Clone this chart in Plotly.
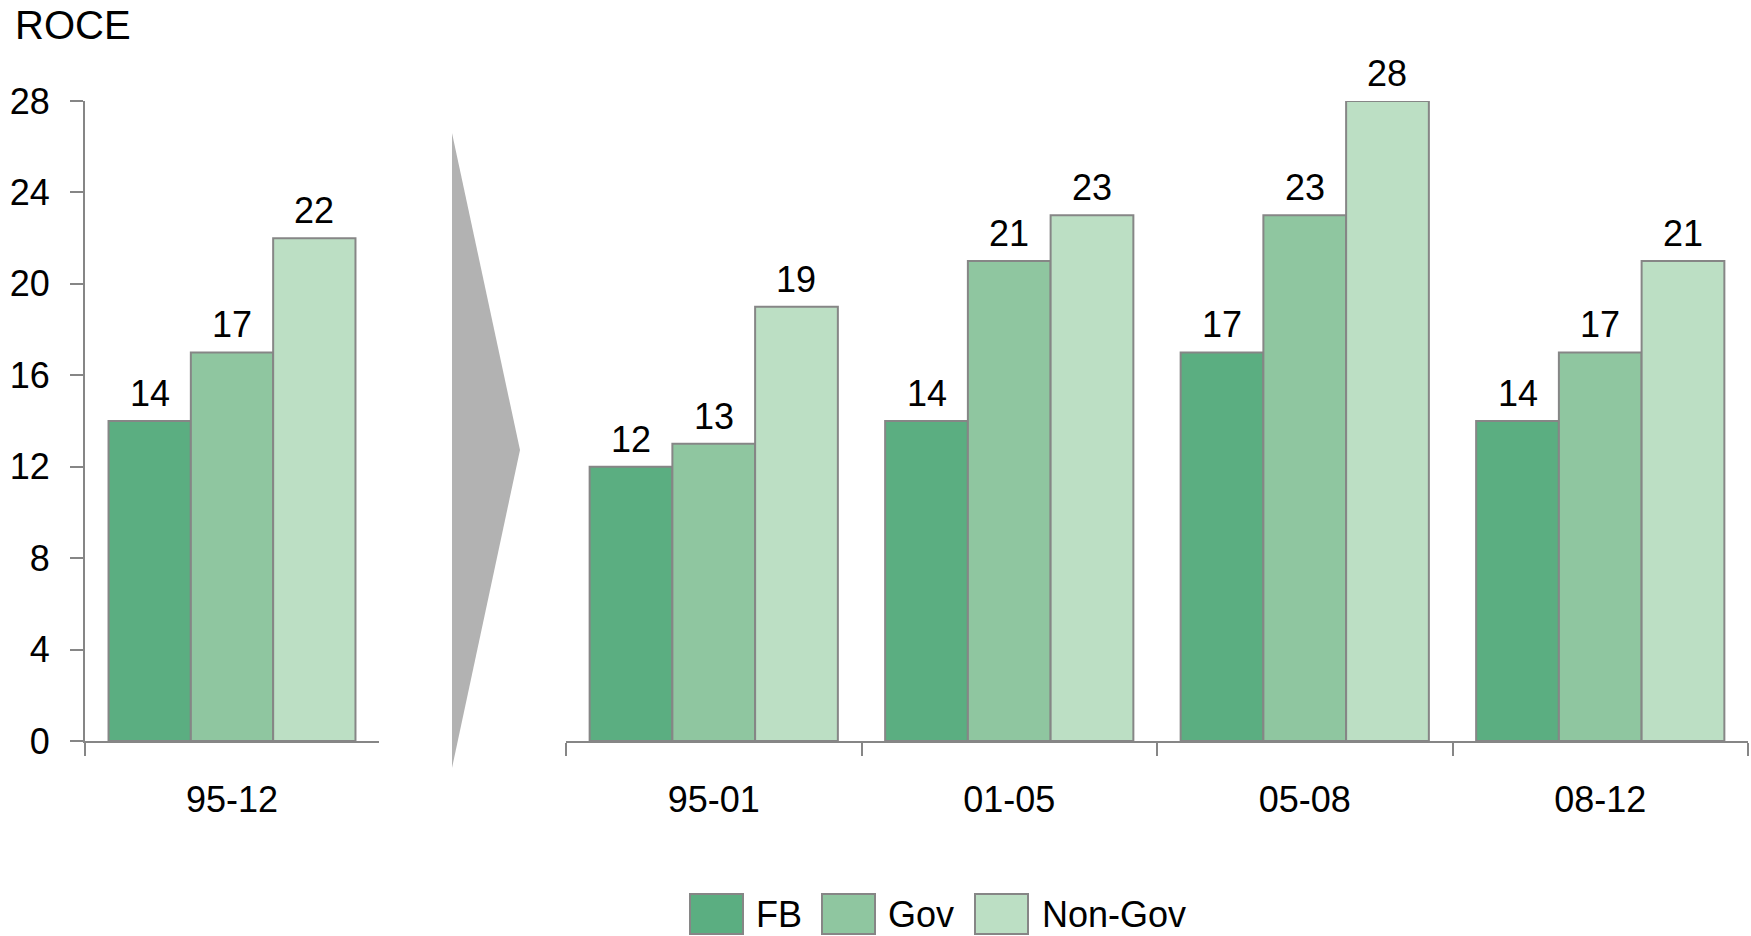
import plotly.graph_objects as go

# Data
series = ["FB", "Gov", "Non-Gov"]
colors = ["#5bae81", "#8fc6a0", "#bcdfc4"]

overall_period = ["95-12"]
overall_values = {"FB": [14], "Gov": [17], "Non-Gov": [22]}

sub_periods = ["95-01", "01-05", "05-08", "08-12"]
sub_values = {
    "FB": [12, 14, 17, 14],
    "Gov": [13, 21, 23, 17],
    "Non-Gov": [19, 23, 28, 21],
}

y_ticks = [0, 4, 8, 12, 16, 20, 24, 28]

W, H = 1751, 936
M_TOP, M_BOT = 101, 195
PLOT_H = H - M_TOP - M_BOT
BARGAP = 0.16

FONT = "Liberation Sans, Arial, sans-serif"
GRAY = "#868686"

# Pixel extents of the two panels
LEFT_X = (85, 379)
RIGHT_X = (566, 1748)


def px_x(p):
    return p / W


def px_y(p):
    return (H - M_BOT - p) / PLOT_H


fig = go.Figure()

panels = [
    ("x", "y", overall_period, overall_values, LEFT_X),
    ("x2", "y2", sub_periods, sub_values, RIGHT_X),
]

for xa, ya, cats, vals, (p0, p1) in panels:
    bar_px = (p1 - p0) / len(cats) * (1 - BARGAP) / len(series)
    for i, (name, col) in enumerate(zip(series, colors)):
        fig.add_trace(go.Bar(
            x=cats, y=vals[name], name=name,
            marker=dict(color=col, line=dict(color=GRAY, width=2)),
            showlegend=False, xaxis=xa, yaxis=ya,
        ))
        # value labels above each bar
        for c, v in zip(cats, vals[name]):
            fig.add_annotation(
                x=c, y=v, xref=xa, yref=ya, text=str(v), showarrow=False,
                xanchor="center", yanchor="bottom",
                xshift=(i - 1) * bar_px, yshift=5,
                font=dict(size=36, color="black", family=FONT),
            )

xaxis_common = dict(
    type="category", showline=True, linecolor=GRAY, linewidth=2,
    ticks="outside", tickson="boundaries", ticklen=13, tickwidth=2, tickcolor=GRAY,
    tickfont=dict(size=36, color="black", family=FONT),
    ticklabelstandoff=26, showgrid=False, zeroline=False, fixedrange=True,
)

fig.update_layout(
    width=W, height=H,
    margin=dict(l=0, r=0, t=M_TOP, b=M_BOT, pad=0),
    paper_bgcolor="white", plot_bgcolor="white",
    barmode="group", bargap=BARGAP, bargroupgap=0,
    showlegend=False,
    font=dict(family=FONT, color="black"),
    xaxis=dict(domain=[px_x(LEFT_X[0]), px_x(LEFT_X[1])], anchor="y",
               range=[-0.5, 0.5], **xaxis_common),
    xaxis2=dict(domain=[px_x(RIGHT_X[0]), px_x(RIGHT_X[1])], anchor="y2",
                range=[-0.5, 3.5], **xaxis_common),
    yaxis=dict(domain=[0, 1], anchor="x", range=[0, 28], tickvals=y_ticks,
               showline=True, linecolor=GRAY, linewidth=2,
               ticks="outside", ticklen=13, tickwidth=2, tickcolor=GRAY,
               tickfont=dict(size=36, color="black", family=FONT),
               ticklabelstandoff=13, showgrid=False, zeroline=False),
    yaxis2=dict(domain=[0, 1], anchor="x2", range=[0, 28], visible=False),
)

# Transition arrow between the overall period and the sub-periods
ax0, ax1 = px_x(452), px_x(520)
fig.add_shape(
    type="path", xref="paper", yref="paper",
    path=f"M {ax0},{px_y(133)} L {ax1},{px_y(450)} L {ax0},{px_y(768)} Z",
    fillcolor="#b2b2b2", line=dict(width=0),
)

# Axis title
fig.add_annotation(
    text="ROCE", xref="paper", yref="paper", x=px_x(13), y=px_y(25),
    xanchor="left", yanchor="middle", showarrow=False,
    font=dict(size=40, color="black", family=FONT),
)

# Legend drawn as swatches + labels
legend_items = [(690, 743, 754), (822, 875, 886), (975, 1028, 1040)]
for (s0, s1, tx), name, col in zip(legend_items, series, colors):
    fig.add_shape(
        type="rect", xref="paper", yref="paper",
        x0=px_x(s0), x1=px_x(s1), y0=px_y(934), y1=px_y(894),
        fillcolor=col, line=dict(color=GRAY, width=2),
    )
    fig.add_annotation(
        text=name, xref="paper", yref="paper", x=px_x(tx), y=px_y(914),
        xanchor="left", yanchor="middle", showarrow=False,
        font=dict(size=36, color="black", family=FONT),
    )

fig.write_html("out.html")
